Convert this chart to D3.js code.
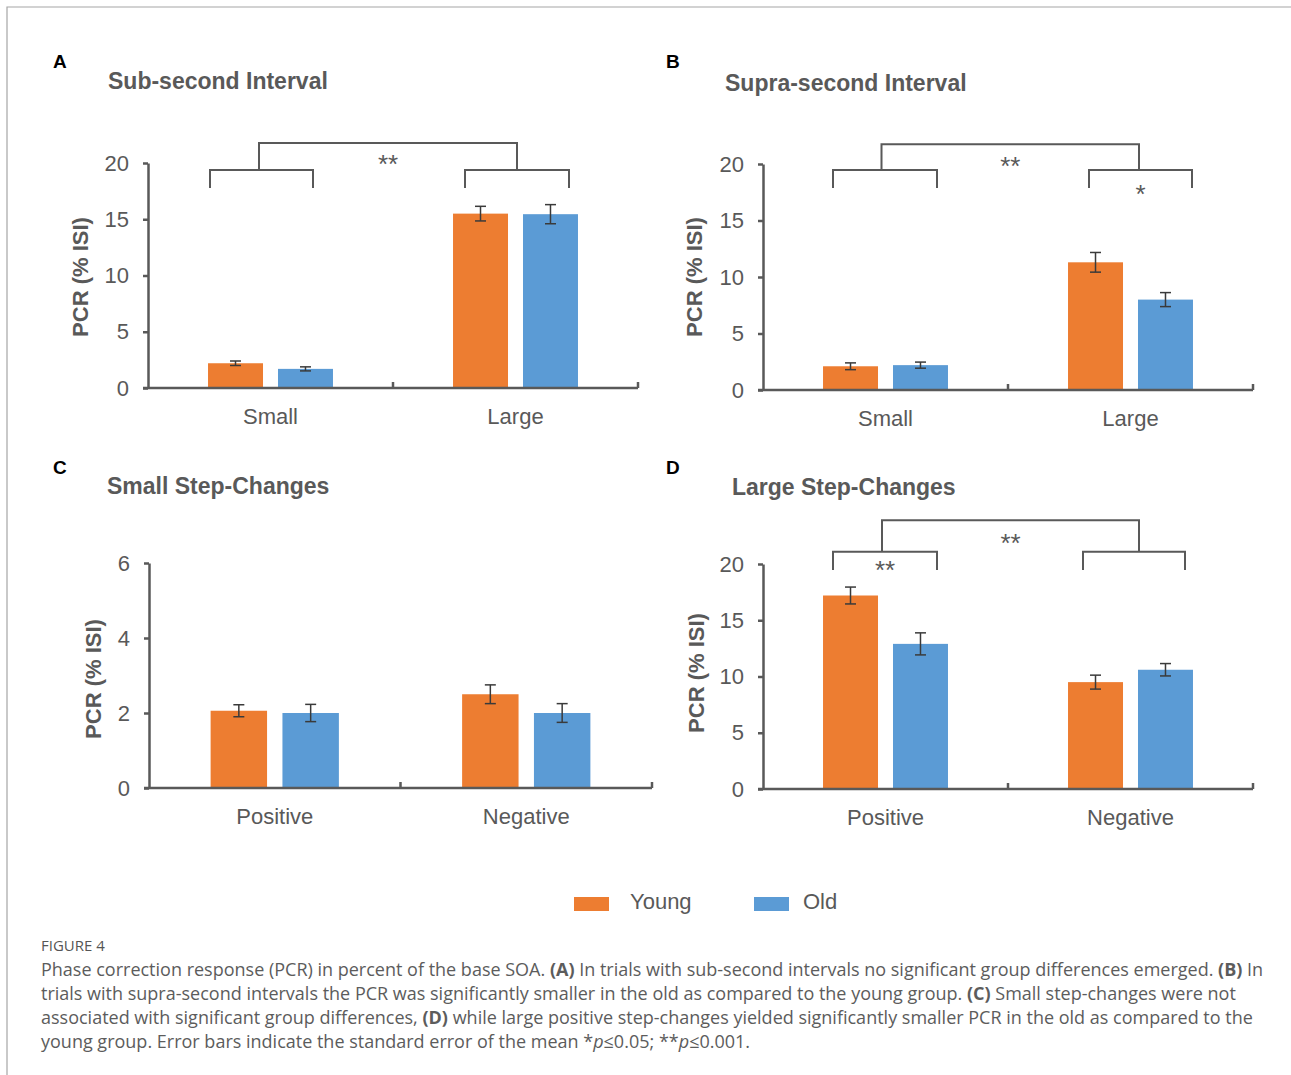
<!DOCTYPE html>
<html>
<head>
<meta charset="utf-8">
<script src="https://cdn.jsdelivr.net/npm/d3@7"></script>
<style>
  body { margin: 0; background: #fff; }
  svg text { font-family: "Liberation Sans", Arial, sans-serif; }
  svg .caption text { font-family: "Open Sans", sans-serif; }
</style>
</head>
<body>
<svg id="fig" width="1291" height="1075"></svg>
<script>
// groups + colours
var groups = ["Young", "Old"];
var groupColors = ["#ED7D31", "#5B9BD5"];

// categories
var intervalCats = ["Small", "Large"];
var stepCats = ["Positive", "Negative"];

// A - sub-second interval
var subYoung = [2.2, 15.5];
var subYoungErr = [0.2, 0.65];
var subOld = [1.7, 15.45];
var subOldErr = [0.18, 0.85];

// B - supra-second interval
var supraYoung = [2.1, 11.3];
var supraYoungErr = [0.3, 0.87];
var supraOld = [2.2, 8.0];
var supraOldErr = [0.27, 0.62];

// C - small step-changes
var smallYoung = [2.06, 2.5];
var smallYoungErr = [0.16, 0.25];
var smallOld = [2.0, 2.0];
var smallOldErr = [0.23, 0.25];

// D - large step-changes
var largeYoung = [17.2, 9.5];
var largeYoungErr = [0.75, 0.62];
var largeOld = [12.9, 10.6];
var largeOldErr = [0.98, 0.55];

// tick labels
var ticks20 = [0, 5, 10, 15, 20];
var ticks6 = [0, 2, 4, 6];

var axisColor = "#595959";

// layout per panel (pixel boxes, bracket offsets from category centre)
var panels = [
	{ letter: "A", title: "Sub-second Interval", cats: intervalCats,
	  vals: [subYoung, subOld], errs: [subYoungErr, subOldErr], ticks: ticks20,
	  box: { x0: 148, x1: 638, y0: 163, y1: 388 }, letterAt: [53, 68], titleAt: [108, 89], ylab: [-68, 1.5],
	  brackets: { low: 7, leg: 25, up: -20, span: [[-60.5, 42.5], [-50.5, 53.5]], upLegs: [-2.5, 0] },
	  sig: [{ where: "up", text: "**", dy: 15 }] },
	{ letter: "B", title: "Supra-second Interval", cats: intervalCats,
	  vals: [supraYoung, supraOld], errs: [supraYoungErr, supraOldErr], ticks: ticks20,
	  box: { x0: 763, x1: 1253, y0: 164, y1: 390 }, letterAt: [666, 68], titleAt: [725, 91], ylab: [-69, 0],
	  brackets: { low: 6, leg: 24, up: -19.7, span: [[-52.5, 51.5], [-41.5, 61.5]], upLegs: [-3.5, -1.5] },
	  sig: [{ where: "up", text: "**", dy: 15.7 }, { where: 1, text: "*", dy: 18 }] },
	{ letter: "C", title: "Small Step-Changes", cats: stepCats,
	  vals: [smallYoung, smallOld], errs: [smallYoungErr, smallOldErr], ticks: ticks6,
	  box: { x0: 149, x1: 652, y0: 563, y1: 788 }, letterAt: [53, 474], titleAt: [107, 494], ylab: [-56, 3.5],
	  brackets: null, sig: [] },
	{ letter: "D", title: "Large Step-Changes", cats: stepCats,
	  vals: [largeYoung, largeOld], errs: [largeYoungErr, largeOldErr], ticks: ticks20,
	  box: { x0: 763, x1: 1253, y0: 564, y1: 789 }, letterAt: [666, 474], titleAt: [732, 495], ylab: [-67, -3.5],
	  brackets: { low: -12.3, leg: 6, up: -43.7, span: [[-52.5, 51.5], [-47.5, 54.5]], upLegs: [-3, 5] },
	  sig: [{ where: "up", text: "**", dy: 16.4 }, { where: 0, text: "**", dy: 12.3 }] }
];

var svg = d3.select("#fig");

// frame
svg.append("path")
	.attr("d", "M7,1075V7H1291")
	.attr("fill", "none")
	.attr("stroke", "#a6a6a6")
	.attr("stroke-width", 1.2);

panels.forEach(function(p) {
	var b = p.box;
	var g = svg.append("g");

	var x = d3.scaleBand().domain(p.cats).range([b.x0, b.x1]).padding(0);
	var band = x.bandwidth();
	var groupW = band * 0.51;
	var xg = d3.scaleBand().domain(groups).range([-groupW / 2, groupW / 2])
		.paddingInner(0.2143).paddingOuter(0);
	var y = d3.scaleLinear().domain([0, d3.max(p.ticks)]).range([b.y1, b.y0]);

	// letter + title
	g.append("text").attr("x", p.letterAt[0]).attr("y", p.letterAt[1])
		.attr("font-size", 19).attr("font-weight", "bold").attr("fill", "#000").text(p.letter);
	g.append("text").attr("x", p.titleAt[0]).attr("y", p.titleAt[1])
		.attr("font-size", 23).attr("font-weight", "bold").attr("fill", axisColor).text(p.title);

	// bars
	var rows = [];
	p.cats.forEach(function(c, i) {
		groups.forEach(function(gr, j) {
			rows.push({ cat: c, group: gr, gi: j, v: p.vals[j][i], e: p.errs[j][i] });
		});
	});
	g.selectAll("rect.bar").data(rows).enter().append("rect")
		.attr("class", "bar")
		.attr("x", function(d) { return x(d.cat) + band / 2 + xg(d.group); })
		.attr("width", xg.bandwidth())
		.attr("y", function(d) { return y(d.v); })
		.attr("height", function(d) { return y(0) - y(d.v); })
		.attr("fill", function(d) { return groupColors[d.gi]; });

	// error bars
	var eb = g.selectAll("g.err").data(rows).enter().append("g")
		.attr("class", "err")
		.attr("transform", function(d) { return "translate(" + (x(d.cat) + band / 2 + xg(d.group) + xg.bandwidth() / 2) + ",0)"; })
		.attr("stroke", "#3a3a3a").attr("stroke-width", 1.5);
	eb.append("line").attr("y1", function(d) { return y(d.v - d.e); }).attr("y2", function(d) { return y(d.v + d.e); });
	eb.append("line").attr("x1", -5.5).attr("x2", 5.5)
		.attr("y1", function(d) { return y(d.v + d.e); }).attr("y2", function(d) { return y(d.v + d.e); });
	eb.append("line").attr("x1", -5.5).attr("x2", 5.5)
		.attr("y1", function(d) { return y(d.v - d.e); }).attr("y2", function(d) { return y(d.v - d.e); });

	// y axis
	var ya = g.append("g").attr("transform", "translate(" + b.x0 + ",0)")
		.call(d3.axisLeft(y).tickValues(p.ticks).tickFormat(d3.format("d"))
			.tickSize(5).tickSizeOuter(0).tickPadding(14));
	ya.select(".domain").attr("stroke", axisColor).attr("stroke-width", 2.5);
	ya.selectAll(".tick line").attr("stroke", axisColor).attr("stroke-width", 2.5);
	ya.selectAll(".tick text").attr("font-size", 22).attr("fill", axisColor)
		.attr("font-family", "Liberation Sans, Arial, sans-serif");

	// x axis line + boundary ticks
	g.append("line").attr("x1", b.x0 - 5).attr("x2", b.x1).attr("y1", y(0)).attr("y2", y(0))
		.attr("stroke", axisColor).attr("stroke-width", 2.7);
	g.selectAll("line.xtick").data(p.cats).enter().append("line")
		.attr("class", "xtick")
		.attr("x1", function(d) { return x(d) + band; }).attr("x2", function(d) { return x(d) + band; })
		.attr("y1", y(0)).attr("y2", y(0) - 6)
		.attr("stroke", axisColor).attr("stroke-width", 2.5);
	var xa = g.append("g").attr("transform", "translate(0," + y(0) + ")")
		.call(d3.axisBottom(x).tickSize(0).tickPadding(20));
	xa.select(".domain").remove();
	xa.selectAll(".tick text").attr("font-size", 22).attr("fill", axisColor)
		.attr("font-family", "Liberation Sans, Arial, sans-serif");

	// y label
	var lx = b.x0 + p.ylab[0], ly = (b.y0 + b.y1) / 2 + p.ylab[1];
	g.append("text").attr("transform", "translate(" + lx + "," + ly + ") rotate(-90)")
		.attr("text-anchor", "middle").attr("dy", "0.36em")
		.attr("font-size", 22).attr("font-weight", "bold").attr("fill", axisColor)
		.text("PCR (% ISI)");

	// significance brackets
	if (p.brackets) {
		var br = p.brackets;
		var lowY = b.y0 + br.low, legY = b.y0 + br.leg, upY = b.y0 + br.up;
		var mids = [];
		var bg = g.append("g").attr("fill", "none").attr("stroke", axisColor).attr("stroke-width", 2);
		p.cats.forEach(function(c, i) {
			var cx = x(c) + band / 2;
			var l = cx + br.span[i][0], r = cx + br.span[i][1];
			mids.push((l + r) / 2);
			bg.append("path").attr("d", "M" + l + "," + legY + "V" + lowY + "H" + r + "V" + legY);
		});
		var u0 = mids[0] + br.upLegs[0], u1 = mids[1] + br.upLegs[1];
		bg.append("path").attr("d", "M" + u0 + "," + lowY + "V" + upY + "H" + u1 + "V" + lowY);

		p.sig.forEach(function(s) {
			var sx, sy;
			if (s.where === "up") { sx = (u0 + u1) / 2; sy = upY + s.dy; }
			else { sx = mids[s.where]; sy = lowY + s.dy; }
			g.append("text").attr("x", sx).attr("y", sy + 15)
				.attr("text-anchor", "middle").attr("font-size", 26).attr("fill", axisColor)
				.text(s.text);
		});
	}
});

// legend
var legendX = [574, 754];
var legendTextX = [630, 803];
var lg = svg.selectAll("g.legend").data(groups).enter().append("g")
	.attr("class", "legend");
lg.append("rect").attr("x", function(d, i) { return legendX[i]; }).attr("y", 897)
	.attr("width", 35).attr("height", 14).attr("fill", function(d, i) { return groupColors[i]; });
lg.append("text").attr("x", function(d, i) { return legendTextX[i]; }).attr("y", 909)
	.attr("font-size", 22).attr("fill", axisColor)
	.text(function(d) { return d; });

// caption
var cap = svg.append("g").attr("class", "caption");
cap.append("text").attr("x", 41).attr("y", 951).attr("font-size", 15).attr("fill", "#555")
	.text("FIGURE 4");
var captionLines = [
	[["Phase correction response (PCR) in percent of the base SOA. ", ""], ["(A)", "b"], [" In trials with sub-second intervals no significant group differences emerged. ", ""], ["(B)", "b"], [" In", ""]],
	[["trials with supra-second intervals the PCR was significantly smaller in the old as compared to the young group. ", ""], ["(C)", "b"], [" Small step-changes were not", ""]],
	[["associated with significant group differences, ", ""], ["(D)", "b"], [" while large positive step-changes yielded significantly smaller PCR in the old as compared to the", ""]],
	[["young group. Error bars indicate the standard error of the mean *", ""], ["p", "i"], ["\u22640.05; **", ""], ["p", "i"], ["\u22640.001.", ""]]
];
captionLines.forEach(function(line, i) {
	var t = cap.append("text").attr("x", 41).attr("y", 976 + i * 24)
		.attr("font-size", 18).attr("fill", "#5c5c5c");
	line.forEach(function(seg) {
		t.append("tspan").text(seg[0])
			.attr("font-weight", seg[1] === "b" ? "bold" : null)
			.attr("font-style", seg[1] === "i" ? "italic" : null);
	});
});
</script>
</body>
</html>
